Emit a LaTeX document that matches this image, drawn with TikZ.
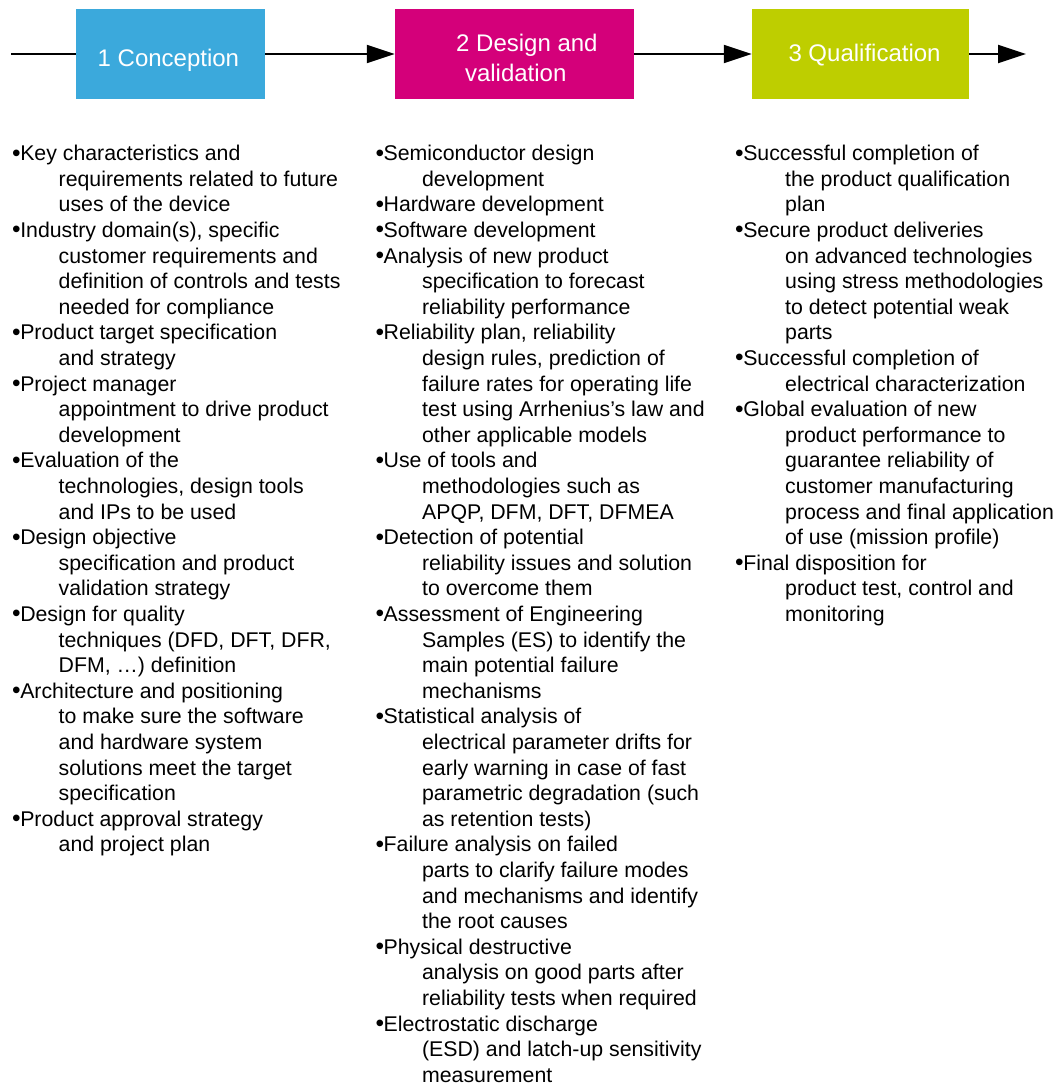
\documentclass[tikz,border=0pt]{standalone}
\usepackage{fontspec}
\setmainfont{Liberation Sans}
\usetikzlibrary{arrows.meta}
\definecolor{cA}{RGB}{59,169,220}
\definecolor{cB}{RGB}{212,0,122}
\definecolor{cC}{RGB}{190,206,0}
\newlength\myind
\newcommand\colbul[1]{\hbox{\raisebox{-0.3pt}{\scalebox{1.15}{•}}\hspace{-0.5pt}#1}}
\newcommand\colind[1]{\hbox{\hspace*{\myind}#1}}
\newcommand\colblock[2]{\vtop{\setlength\myind{#1}\fontsize{21.3pt}{25.6pt}\selectfont #2}}
\tikzset{
  stage/.style={draw=none, inner sep=0pt, minimum height=90pt},
  stagetext/.style={inner sep=0pt, text=white, font=\fontsize{24pt}{28.8pt}\selectfont},
  col/.style={inner sep=0pt, text=black},
  flow/.style={line width=2pt, black},
  flowarrow/.style={flow, -{Triangle[length=28pt,width=18pt]}}
}
\begin{document}
\begin{tikzpicture}[x=1pt,y=-1pt]
\useasboundingbox (0,0) rectangle (1061,1088);
% stages
\node[stage, fill=cA, minimum width=189pt] (b1) at (170.5,54) {};
\node[stage, fill=cB, minimum width=239pt] (b2) at (514.5,54) {};
\node[stage, fill=cC, minimum width=217pt] (b3) at (860.5,54) {};
\node[stagetext, anchor=base west] (t1) at (97.5,66) {1 Conception};
\node[stagetext, anchor=base west] (t2a) at (456,51.7) {2 Design and};
\node[stagetext, anchor=base west] (t2b) at (464.8,81) {validation};
\node[stagetext, anchor=base west] (t3) at (788.3,61.7) {3 Qualification};
% connectors
\coordinate (start) at (11,54);
\coordinate (finish) at (1026,54);
\draw[flow] (start) -- (b1.west);
\draw[flowarrow] (b1.east) -- (b2.west);
\draw[flowarrow] (b2.east) -- (b3.west);
\draw[flowarrow] (b3.east) -- (finish);
% column 1
\node[col, anchor=base west] (c1) at (12,160.7) {\colblock{46.5pt}{%
\colbul{Key characteristics and}
\colind{requirements related to future}
\colind{uses of the device}
\colbul{Industry domain(s), specific}
\colind{customer requirements and}
\colind{definition of controls and tests}
\colind{needed for compliance}
\colbul{Product target specification}
\colind{and strategy}
\colbul{Project manager}
\colind{appointment to drive product}
\colind{development}
\colbul{Evaluation of the}
\colind{technologies, design tools}
\colind{and IPs to be used}
\colbul{Design objective}
\colind{specification and product}
\colind{validation strategy}
\colbul{Design for quality}
\colind{techniques (DFD, DFT, DFR,}
\colind{DFM, …) definition}
\colbul{Architecture and positioning}
\colind{to make sure the software}
\colind{and hardware system}
\colind{solutions meet the target}
\colind{specification}
\colbul{Product approval strategy}
\colind{and project plan}}};
% column 2
\node[col, anchor=base west] (c2) at (375.4,160.7) {\colblock{46.5pt}{%
\colbul{Semiconductor design}
\colind{development}
\colbul{Hardware development}
\colbul{Software development}
\colbul{Analysis of new product}
\colind{specification to forecast}
\colind{reliability performance}
\colbul{Reliability plan, reliability}
\colind{design rules, prediction of}
\colind{failure rates for operating life}
\colind{test using Arrhenius’s law and}
\colind{other applicable models}
\colbul{Use of tools and}
\colind{methodologies such as}
\colind{APQP, DFM, DFT, DFMEA}
\colbul{Detection of potential}
\colind{reliability issues and solution}
\colind{to overcome them}
\colbul{Assessment of Engineering}
\colind{Samples (ES) to identify the}
\colind{main potential failure}
\colind{mechanisms}
\colbul{Statistical analysis of}
\colind{electrical parameter drifts for}
\colind{early warning in case of fast}
\colind{parametric degradation (such}
\colind{as retention tests)}
\colbul{Failure analysis on failed}
\colind{parts to clarify failure modes}
\colind{and mechanisms and identify}
\colind{the root causes}
\colbul{Physical destructive}
\colind{analysis on good parts after}
\colind{reliability tests when required}
\colbul{Electrostatic discharge}
\colind{(ESD) and latch-up sensitivity}
\colind{measurement}}};
% column 3
\node[col, anchor=base west] (c3) at (735,160.7) {\colblock{50pt}{%
\colbul{Successful completion of}
\colind{the product qualification}
\colind{plan}
\colbul{Secure product deliveries}
\colind{on advanced technologies}
\colind{using stress methodologies}
\colind{to detect potential weak}
\colind{parts}
\colbul{Successful completion of}
\colind{electrical characterization}
\colbul{Global evaluation of new}
\colind{product performance to}
\colind{guarantee reliability of}
\colind{customer manufacturing}
\colind{process and final application}
\colind{of use (mission profile)}
\colbul{Final disposition for}
\colind{product test, control and}
\colind{monitoring}}};
\end{tikzpicture}
\end{document}
